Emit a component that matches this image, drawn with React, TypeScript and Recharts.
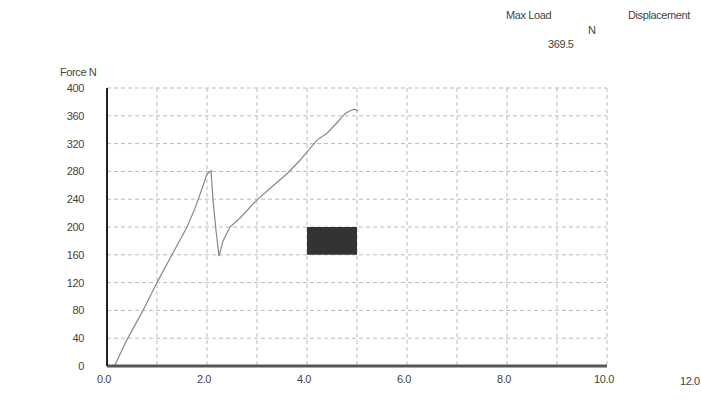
import { LineChart, Line, XAxis, YAxis, CartesianGrid, ReferenceArea } from 'recharts'

// displacement (mm) vs force (N)
const displacement = [0.15, 0.4, 0.72, 1.0, 1.3, 1.6, 1.75, 1.9, 2.0, 2.08, 2.12, 2.18, 2.24, 2.32, 2.46, 2.66, 3.0, 3.3, 3.62, 3.86, 4.05, 4.2, 4.4, 4.6, 4.76, 4.85, 4.95, 5.02]
const force = [0, 38, 80, 120, 160, 200, 225, 255, 276, 281, 239, 195, 158, 180, 200, 213, 239, 258, 278, 296, 312, 325, 335, 350, 363, 367, 369.5, 367]

const xTicks = [0, 2, 4, 6, 8, 10]
const yTicks = [0, 40, 80, 120, 160, 200, 240, 280, 320, 360, 400]
const xGrid = [1, 2, 3, 4, 5, 6, 7, 8, 9, 10]
const yGrid = [40, 80, 120, 160, 200, 240, 280, 320, 360, 400]

const maxLoad = '369.5'

const data = displacement.map((x, i) => ({ x, f: force[i] }))

const font = '"Liberation Sans", Arial, sans-serif'
const txt = { position: 'absolute' as const, fontFamily: font, fontSize: 11, color: '#444', letterSpacing: -0.4, whiteSpace: 'nowrap' as const }

export default function App() {
  return (
    <div style={{ position: 'absolute', left: 0, top: 0, width: 701, height: 417, background: '#fff', overflow: 'hidden' }}>
      <LineChart width={701} height={417} data={data} margin={{ top: 88, right: 94, left: 0, bottom: 21 }}>
        <CartesianGrid stroke="#bbb" strokeDasharray="4 3" verticalValues={xGrid} horizontalValues={yGrid} />
        <XAxis
          dataKey="x" type="number" domain={[0, 10]} ticks={xTicks}
          tickFormatter={v => v.toFixed(1)}
          tick={{ fontSize: 11, fill: '#444', fontFamily: font, letterSpacing: -0.4, dx: -3 }}
          tickSize={0} tickMargin={9} height={30}
          axisLine={{ stroke: '#555', strokeWidth: 3 }}
        />
        <YAxis
          type="number" domain={[0, 400]} ticks={yTicks}
          tick={{ fontSize: 11, fill: '#444', fontFamily: font, letterSpacing: -0.4 }}
          tickSize={0} tickMargin={23} width={107}
          axisLine={{ stroke: '#222', strokeWidth: 2 }}
        />
        <ReferenceArea x1={4} x2={5} y1={160} y2={200} fill="#333" fillOpacity={1} stroke="none" />
        <Line dataKey="f" stroke="#888" strokeWidth={1.2} dot={false} isAnimationActive={false} type="linear" />
      </LineChart>
      <div style={{ ...txt, left: 60, top: 66 }}>Force N</div>
      <div style={{ ...txt, left: 680, top: 375 }}>12.0</div>
      <div style={{ ...txt, left: 506, top: 9 }}>Max Load</div>
      <div style={{ ...txt, left: 588, top: 24 }}>N</div>
      <div style={{ ...txt, left: 548, top: 38 }}>{maxLoad}</div>
      <div style={{ ...txt, left: 628, top: 9 }}>Displacement</div>
    </div>
  )
}
